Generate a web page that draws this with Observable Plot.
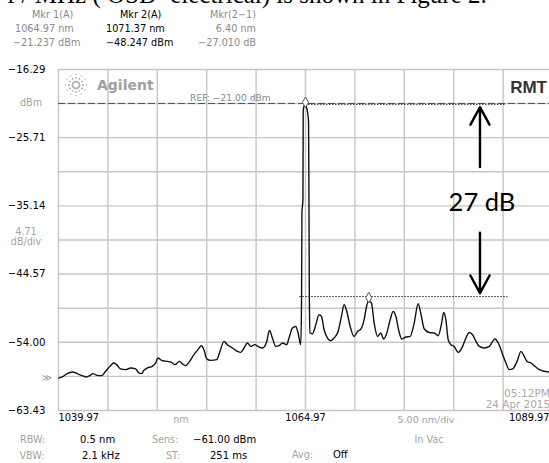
<!DOCTYPE html>
<html><head><meta charset="utf-8">
<script src="https://cdn.jsdelivr.net/npm/d3@7"></script>
<script src="https://cdn.jsdelivr.net/npm/@observablehq/plot@0.6"></script>
<style>
html,body{margin:0;padding:0;background:#fff;}
#wrap{position:relative;width:549px;height:463px;overflow:hidden;background:#fff;}
#wrap > svg{position:absolute;left:0;top:0;}
.t{position:absolute;white-space:nowrap;line-height:1;}
</style></head><body><div id="wrap"></div>
<script>
// ---- data ----
const wavelength = [1040.00,1040.35,1040.85,1041.36,1041.86,1042.37,1042.81,1043.14,1043.45,1043.89,
1044.33,1044.73,1045.17,1045.57,1045.85,1046.25,1046.76,1047.27,1047.77,1048.11,
1048.38,1048.61,1048.96,1049.46,1049.80,1050.03,1050.41,1050.98,1051.42,1051.75,
1052.23,1052.50,1052.84,1053.17,1053.68,1054.08,1054.43,1054.69,1054.97,1055.37,
1055.98,1056.31,1056.72,1057.06,1057.57,1058.08,1058.41,1058.75,1059.09,1059.42,
1059.83,1060.16,1060.61,1061.05,1061.32,1061.62,1061.96,1062.29,1062.64,1063.07,
1063.30,1063.65,1063.98,1064.22,1064.49,1064.57,1064.61,1064.71,1064.74,1064.84,
1064.97,1065.05,1065.18,1065.28,1065.32,1065.36,1065.43,1065.68,1066.01,1066.34,
1066.59,1066.85,1067.20,1067.53,1067.86,1068.27,1068.61,1068.88,1069.15,1069.49,
1069.89,1070.23,1070.57,1070.90,1071.15,1071.37,1071.65,1071.92,1072.26,1072.60,
1072.87,1073.20,1073.54,1073.84,1074.12,1074.39,1074.72,1075.13,1075.56,1075.97,
1076.37,1076.65,1076.98,1077.49,1078.00,1078.40,1078.75,1078.95,1079.18,1079.41,
1079.69,1080.02,1080.43,1080.87,1081.21,1081.54,1081.89,1082.22,1082.56,1083.06,
1083.57,1083.91,1084.15,1084.48,1084.93,1085.26,1085.59,1085.94,1086.38,1086.78,
1087.11,1087.39,1087.79,1088.20,1088.63,1089.14,1089.65,1089.97];
const power = [-58.95,-58.79,-58.33,-58.10,-58.33,-58.61,-58.79,-58.61,-58.33,-58.57,
-58.61,-58.01,-57.33,-56.86,-57.09,-57.68,-57.78,-57.55,-57.68,-58.24,
-58.33,-57.88,-57.55,-57.33,-56.86,-56.17,-56.50,-56.64,-56.77,-57.09,
-56.64,-56.99,-57.23,-56.77,-55.71,-55.02,-54.47,-55.02,-56.30,-56.50,
-56.40,-55.26,-53.88,-54.33,-54.79,-55.26,-55.40,-54.79,-54.10,-54.57,
-54.33,-54.57,-54.79,-53.88,-52.36,-53.41,-54.57,-54.47,-54.10,-54.33,
-53.41,-52.03,-51.81,-52.72,-54.33,-48.13,-35.98,-34.35,-21.94,-21.32,
-21.237,-21.39,-22.22,-23.60,-34.35,-48.13,-52.68,-52.82,-51.58,-50.20,
-50.43,-52.27,-53.41,-53.78,-53.41,-52.50,-50.43,-48.82,-49.74,-51.81,
-53.19,-52.50,-52.17,-50.89,-49.05,-48.247,-48.59,-51.34,-53.19,-52.72,
-53.55,-52.72,-50.89,-49.74,-50.43,-52.27,-53.55,-53.27,-53.19,-51.34,
-48.68,-50.06,-52.13,-52.64,-52.72,-53.09,-51.34,-49.88,-50.89,-53.64,
-54.33,-54.57,-55.40,-54.57,-53.41,-52.64,-52.96,-53.88,-54.57,-54.79,
-54.57,-53.88,-53.55,-54.10,-55.71,-56.86,-57.78,-57.68,-56.64,-55.26,
-55.95,-56.64,-56.86,-57.33,-57.78,-58.01,-58.10,-58.19];

const xGrid = [1039.97,1044.97,1049.97,1054.97,1059.97,1064.97,1069.97,1074.97,1079.97,1084.97,1089.97];
const yGrid = [-16.29,-21.00,-25.71,-30.43,-35.14,-39.86,-44.57,-49.29,-54.00,-58.71,-63.43];
const yTickLabels = [-16.29,-25.71,-35.14,-44.57,-54.00,-63.43];
const xTickLabels = [1039.97,1064.97,1089.97];
const refLevel = -21.00;
const markerNames = ["1","2"];
const markerNm = [1064.97,1071.37];
const markerDbm = [-21.237,-48.247];
// hand-drawn annotations
const levelLineNm1 = [1064.97,1064.39];
const levelLineNm2 = [1085.26,1085.46];
const levelLineDbm = [-21.1,-47.68];
const arrowNm = [1082.63,1082.63];
const arrowFrom = [-29.76,-38.85];
const arrowTo = [-21.49,-47.21];
const noteText = "27 dB";
const noteNm = 1082.83, noteDbm = -34.76;

const trace = wavelength.map((x,i)=>({x, y: power[i]}));
const markers = markerNm.map((x,i)=>({name: markerNames[i], x, y: markerDbm[i]}));
const levels = levelLineDbm.map((y,i)=>({y, x1: levelLineNm1[i], x2: levelLineNm2[i]}));
const arrows = arrowNm.map((x,i)=>({x, y1: arrowFrom[i], y2: arrowTo[i]}));
const fmt = d => (d < 0 ? "\u2212" : "") + Math.abs(d).toFixed(2);

const chart = Plot.plot({
  width: 549, height: 463,
  marginLeft: 58, marginRight: -3, marginTop: 69, marginBottom: 53,
  x: {domain: [1039.97,1089.97], axis: null, label: null},
  y: {domain: [-63.43,-16.29], axis: null, label: null},
  style: {fontFamily: "DejaVu Sans", fontSize: "10px", background: "white"},
  marks: [
    Plot.ruleX(xGrid, {stroke: "#c6c6c6", strokeWidth: 1.4}),
    Plot.ruleY(yGrid, {stroke: "#c6c6c6", strokeWidth: 1.4}),
    Plot.ruleY([refLevel], {stroke: "#555", strokeWidth: 1.1, strokeDasharray: "7,3"}),
    Plot.line(trace, {x: "x", y: "y", stroke: "#111", strokeWidth: 1.4, curve: "monotone-x", strokeLinejoin: "round"}),
    Plot.ruleY(levels, {y: "y", x1: "x1", x2: "x2", stroke: "#222", strokeWidth: 1, strokeDasharray: "1.5,1.5"}),
    Plot.dot(markers, {x: "x", y: "y", symbol: "diamond", r: 3.2, stroke: "#555", fill: "white", strokeWidth: 1, dy: -3}),
    Plot.arrow(arrows, {x: "x", y1: "y1", y2: "y2", stroke: "#000", strokeWidth: 2.4, headAngle: 57, headLength: 13}),
    Plot.text([noteText], {x: noteNm, y: noteDbm, text: d => d, fontFamily: "Lato", fontSize: 25.5, fill: "#000"}),
    Plot.axisY(yTickLabels, {tickSize: 0, tickPadding: 13, tickFormat: fmt, fontSize: 10.2, label: null}),
    Plot.text([xTickLabels[0]], {x: d => d, text: d => d.toFixed(2), frameAnchor: "bottom", dy: 10, textAnchor: "start", fontSize: 9.8}),
    Plot.text([xTickLabels[1]], {x: d => d, text: d => d.toFixed(2), frameAnchor: "bottom", dy: 10, textAnchor: "middle", fontSize: 9.8}),
    Plot.text([xTickLabels[2]], {x: d => d, text: d => d.toFixed(2), frameAnchor: "bottom", dy: 10, dx: -3, textAnchor: "end", fontSize: 9.8})
  ]
});
const wrap = document.getElementById("wrap");
wrap.appendChild(chart);

// ---- instrument / page text ----
function addText(txt, x, y, o = {}) {
  const size = o.size || 10;
  const d = document.createElement("div");
  d.className = "t";
  d.textContent = txt;
  d.style.fontSize = size + "px";
  d.style.color = o.color || "#000";
  d.style.fontWeight = o.weight || "normal";
  d.style.fontFamily = o.family || "DejaVu Sans";
  d.style.left = x + "px";
  d.style.top = (y - (o.k || 0.48) * size) + "px";
  if (o.anchor === "middle") d.style.transform = "translateX(-50%)";
  if (o.anchor === "end") d.style.transform = "translateX(-100%)";
  wrap.appendChild(d);
}
const G1 = "#8a8a8a", G2 = "#a3a3a3";
// cut-off line of the surrounding document
addText("f / MHz ( OSB- electrical) is shown in Figure 2.", 7, 3, {size: 25, family: "Liberation Serif", k: 0.84});
// marker readouts
addText("Mkr 1(A)", 32, 15, {color: G1, size: 9.7});
addText("1064.97 nm", 15, 29, {color: G1, size: 9.7});
addText("\u221221.237 dBm", 13, 42.5, {color: G1, size: 9.7});
addText("Mkr 2(A)", 120, 15, {size: 9.7});
addText("1071.37 nm", 106, 29, {size: 9.7});
addText("\u221248.247 dBm", 106, 42.5, {size: 9.7});
addText("Mkr(2\u22121)", 256, 15, {color: G1, size: 9.7, anchor: "end"});
addText("6.40 nm", 256, 29, {color: G1, size: 9.7, anchor: "end"});
addText("\u221227.010 dB", 256, 42.5, {color: G1, size: 9.7, anchor: "end"});
// left side labels
addText("dBm", 31, 103, {color: G2, size: 9.6, anchor: "middle"});
addText("4.71", 26, 232, {color: G2, size: 9.6, anchor: "middle"});
addText("dB/div", 26, 242, {color: G2, size: 9.6, anchor: "middle"});
addText("\u226B", 47, 378, {color: "#999", size: 10, anchor: "middle"});
// in-graticule labels
addText("Agilent", 97, 85, {color: "#a0a0a0", size: 14, weight: "bold"});
addText("REF: \u221221.00 dBm", 190, 97.7, {color: "#888", size: 9.2});
addText("RMT", 547, 87, {color: "#333", size: 17, weight: "bold", family: "Liberation Sans", anchor: "end"});
addText("05:12PM", 550, 393, {color: "#aaa", size: 10.6, anchor: "end"});
addText("24 Apr 2015", 550, 404, {color: "#aaa", size: 10.4, anchor: "end"});
// x axis row
addText("nm", 181, 420, {color: G2, size: 9.7, anchor: "middle"});
addText("5.00 nm/div", 426, 420, {color: G2, size: 9.5, anchor: "middle"});
addText("In Vac", 429, 440, {color: G2, size: 9.7, anchor: "middle"});
// settings footer
addText("RBW:", 20, 440, {color: G2, size: 9.6});
addText("0.5 nm", 80, 440, {size: 10});
addText("Sens:", 152, 440, {color: G2, size: 9.6});
addText("\u221261.00 dBm", 193, 440, {size: 10});
addText("VBW:", 19.5, 456, {color: G2, size: 9.6});
addText("2.1 kHz", 82, 456, {size: 10});
addText("ST:", 166, 456, {color: G2, size: 9.6});
addText("251 ms", 210, 456, {size: 10});
addText("Avg:", 292, 455, {color: G2, size: 9.6});
addText("Off", 333, 455, {size: 10});

// Agilent spark logo (decorative)
const ns = "http://www.w3.org/2000/svg";
const logo = document.createElementNS(ns, "svg");
logo.setAttribute("width", 30); logo.setAttribute("height", 30);
logo.style.position = "absolute"; logo.style.left = "61px"; logo.style.top = "70px";
for (let k = 0; k < 12; k++) {
  const a = k * Math.PI / 6;
  [[3.5, 1.0], [7, 0.9], [10.5, 0.7]].forEach(([rr, s]) => {
    const c = document.createElementNS(ns, "circle");
    c.setAttribute("cx", 15 + rr * Math.cos(a)); c.setAttribute("cy", 15 + rr * Math.sin(a));
    c.setAttribute("r", s); c.setAttribute("fill", "#aaa");
    logo.appendChild(c);
  });
}
wrap.appendChild(logo);
</script></body></html>
